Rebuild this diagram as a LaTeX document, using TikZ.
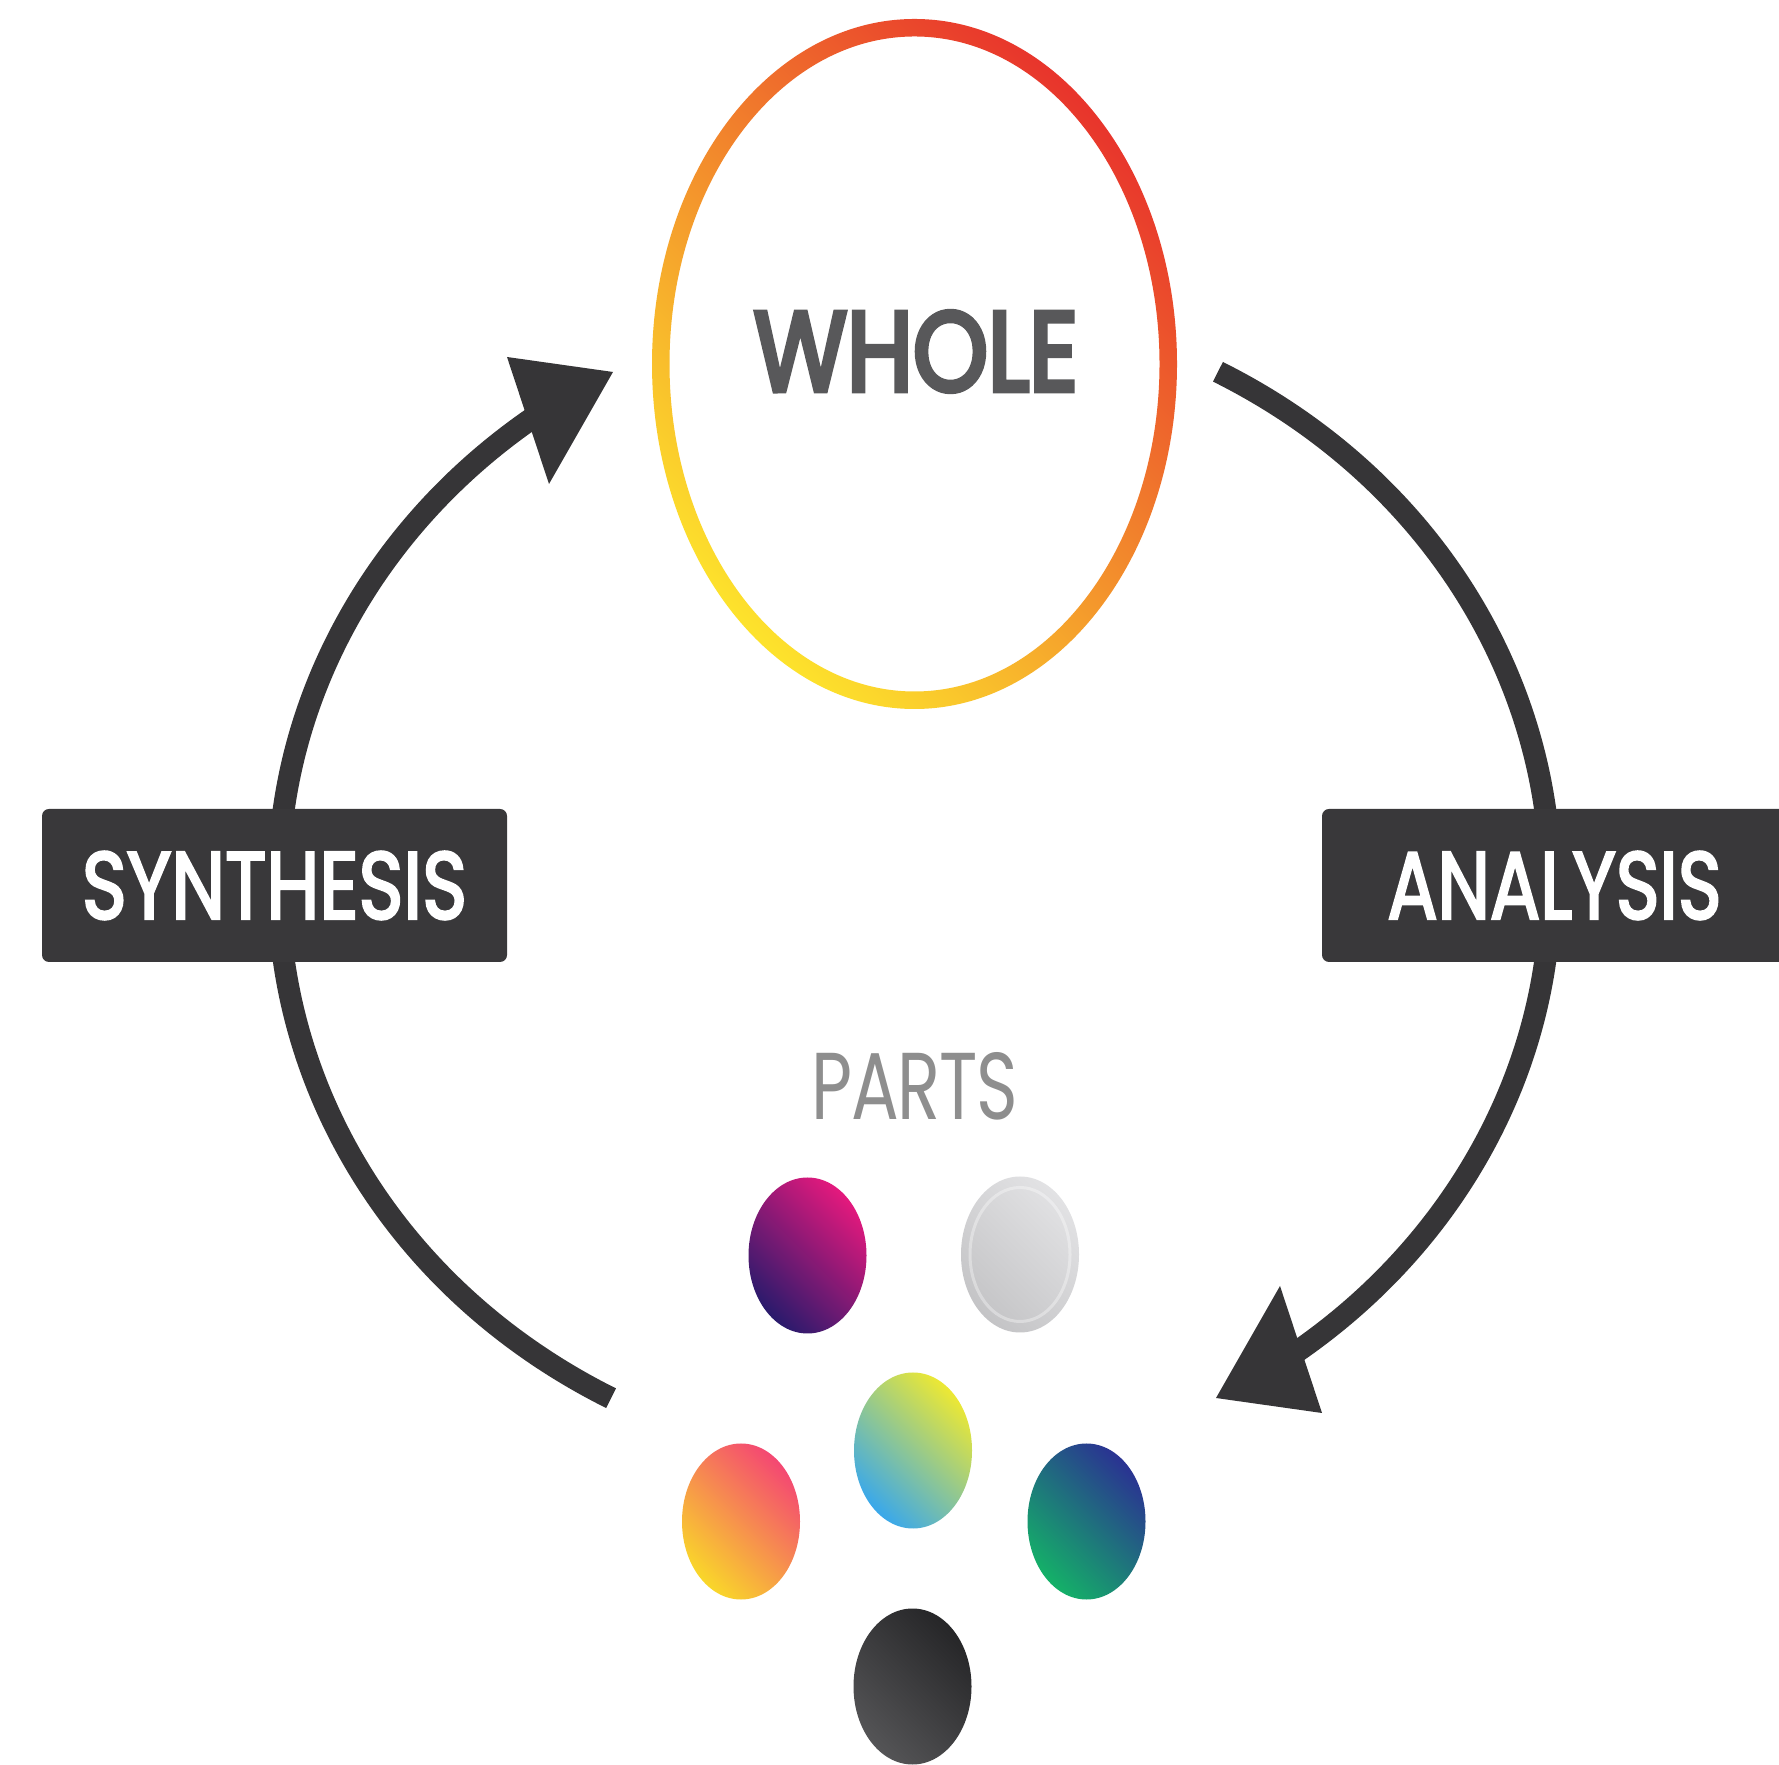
\documentclass[tikz,border=0pt]{standalone}
\usepackage{fontspec}
\setmainfont{Poppins}
\newfontfamily\lblfont[FakeBold=3]{Poppins}
\newfontfamily\wholefont[FakeBold=5]{Poppins}
\newfontfamily\partsfont[LetterSpace=-2]{Poppins}
\usepackage{graphicx}
\usetikzlibrary{shapes.geometric,calc}
\definecolor{arcgray}{HTML}{363537}
\definecolor{boxgray}{HTML}{39383A}
\definecolor{ringY}{HTML}{FDE22C}
\definecolor{ringO}{HTML}{F39A2A}
\definecolor{ringR}{HTML}{E8352C}
\definecolor{wholegray}{HTML}{58585A}
\definecolor{partsgray}{HTML}{8E8E8E}
\definecolor{purA}{HTML}{2A1A6C}\definecolor{purM}{HTML}{8A1E7C}\definecolor{purB}{HTML}{E3197D}
\definecolor{silA}{HTML}{C4C4C6}\definecolor{silB}{HTML}{E2E2E4}
\definecolor{cenA}{HTML}{3AA8EA}\definecolor{cenM}{HTML}{A6D08C}\definecolor{cenB}{HTML}{ECE834}
\definecolor{oraA}{HTML}{F9D62A}\definecolor{oraM}{HTML}{F49A5C}\definecolor{oraB}{HTML}{F44872}
\definecolor{teaA}{HTML}{14B068}\definecolor{teaM}{HTML}{1A7A8A}\definecolor{teaB}{HTML}{2A3392}
\definecolor{blkA}{HTML}{545456}\definecolor{blkB}{HTML}{262628}
\begin{document}
\begin{tikzpicture}[x=1pt,y=1pt,
  arcline/.style={draw=arcgray,line width=22pt},
  headfill/.style={fill=arcgray},
  lblbox/.style={rectangle,rounded corners=7pt,fill=boxgray,minimum width=465pt,minimum height=153pt,inner sep=0pt,text=white},
  part/.style={ellipse,minimum width=118pt,minimum height=156pt,inner sep=0pt},
]
\useasboundingbox (0,0) rectangle (1779,1764);
\fill[white] (0,0) rectangle (1779,1764);

\coordinate (loop) at (914.5,879);

% WHOLE ring
\shade[even odd rule, bottom color=ringY, middle color=ringO, top color=ringR, shading angle=-45]
  (914.5,1400) ellipse [x radius=262.5pt, y radius=345pt]
  (914.5,1400) ellipse [x radius=245pt, y radius=327.5pt];

% WHOLE text
\node[text=wholegray, inner sep=0pt] (whole) at (916,1412.5) {\resizebox{324pt}{79pt}{\wholefont WHOLE}};

% synthesis arc (left, upward)
\draw[arcline] ($(loop)+(241.5:636pt and 584pt)$) coordinate (synS)
  arc[start angle=241.5, end angle=125, x radius=636pt, y radius=584pt] coordinate (synE);
\fill[headfill] (613,1392) coordinate (synTip) -- (507,1407) -- (549,1280) -- cycle;

% analysis arc (right, downward)
\draw[arcline] ($(loop)+(61.5:636pt and 584pt)$) coordinate (anaS)
  arc[start angle=61.5, end angle=-55, x radius=636pt, y radius=584pt] coordinate (anaE);
\fill[headfill] (1216,366) coordinate (anaTip) -- (1322,351) -- (1280,478) -- cycle;

% label boxes
\node[lblbox] (synth) at (274.5,878.5) {\resizebox{385pt}{67pt}{\lblfont SYNTHESIS}};
\node[lblbox] (anal) at (1554.5,878.5) {\resizebox{334pt}{67pt}{\lblfont ANALYSIS}};

% parts
\node[text=partsgray, inner sep=0pt] (parts) at (915,677.5) {\resizebox{206pt}{67pt}{\partsfont PARTS}};

\node[part, bottom color=purA, middle color=purM, top color=purB, shading angle=-45] (pPur) at (807.5,508.5) {};
\node[part, bottom color=silA, top color=silB, shading angle=-45] (pSil) at (1020,509.5) {};
\draw[white, opacity=0.35, line width=3pt] (pSil.center) ellipse [x radius=50pt, y radius=67pt];
\node[part, bottom color=cenA, middle color=cenM, top color=cenB, shading angle=-45] (pCen) at (913,313.5) {};
\node[part, bottom color=oraA, middle color=oraM, top color=oraB, shading angle=-45] (pOra) at (741,242.5) {};
\node[part, bottom color=teaA, middle color=teaM, top color=teaB, shading angle=-45] (pTea) at (1086.5,242.5) {};
\node[part, bottom color=blkA, top color=blkB, shading angle=-45] (pBlk) at (912.5,77.5) {};
\end{tikzpicture}
\end{document}
